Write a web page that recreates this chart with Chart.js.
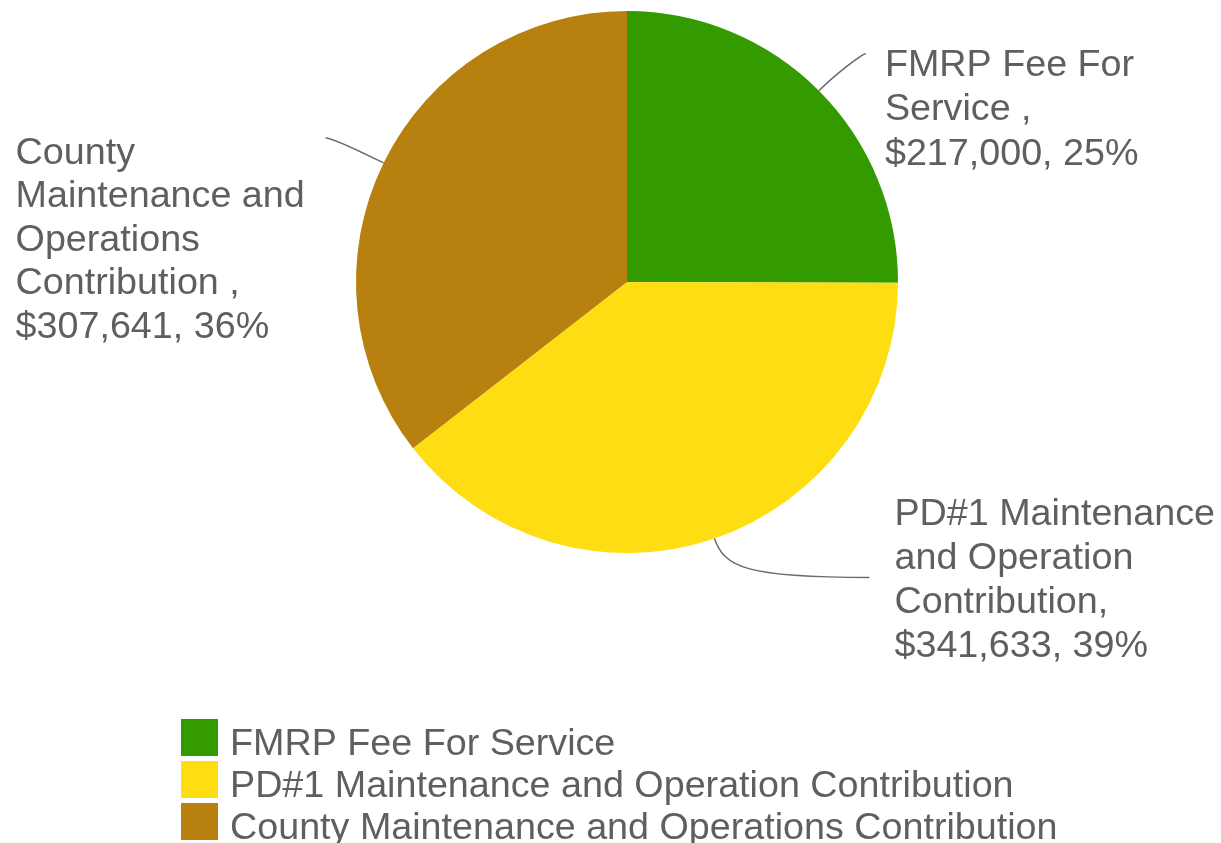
<!DOCTYPE html>
<html>
<head>
<meta charset="utf-8">
<script src="https://cdn.jsdelivr.net/npm/chart.js@4.4.0/dist/chart.umd.min.js"></script>
<style>
  html, body { margin: 0; padding: 0; background: #fff; }
  #wrap { position: relative; width: 1221px; height: 843px; }
</style>
</head>
<body>
<div id="wrap"><canvas id="c" width="1221" height="843"></canvas></div>
<script>
// ---- data ----
const categories = [
  "FMRP Fee For Service",
  "PD#1 Maintenance and Operation Contribution",
  "County Maintenance and Operations Contribution"
];
const values = [217000, 341633, 307641];
const sliceColors = ["#339A00", "#FEDD12", "#B8810F"];
// data label text, already wrapped as in the reference
const labelLines = [
  ["FMRP Fee For", "Service ,", "$217,000, 25%"],
  ["PD#1 Maintenance", "and Operation", "Contribution,", "$341,633, 39%"],
  ["County", "Maintenance and", "Operations", "Contribution ,", "$307,641, 36%"]
];

const FONT = '37.7px "Liberation Sans", Arial, sans-serif';
const TEXT_COLOR = '#5f5f5f';

const calloutPlugin = {
  id: 'callouts',
  afterDatasetsDraw(chart, args, opts) {
    const ctx = chart.ctx;
    const meta = chart.getDatasetMeta(0);
    ctx.save();
    meta.data.forEach((arc, i) => {
      const p = arc.getProps(['x', 'y', 'startAngle', 'endAngle', 'outerRadius'], true);
      const mid = (p.startAngle + p.endAngle) / 2;
      const ux = Math.cos(mid), uy = Math.sin(mid);
      const ax = p.x + ux * p.outerRadius, ay = p.y + uy * p.outerRadius;
      const lay = opts.layout[i];
      const ex = ax + lay.dx, ey = ay + lay.dy;
      ctx.strokeStyle = '#6a6a6a';
      ctx.lineWidth = 1.5;
      ctx.beginPath();
      ctx.moveTo(ax, ay);
      ctx.bezierCurveTo(ax + ux * lay.c1, ay + uy * lay.c1, ex - lay.c2, ey, ex, ey);
      ctx.stroke();
      ctx.fillStyle = TEXT_COLOR;
      ctx.font = FONT;
      ctx.textAlign = 'left';
      ctx.textBaseline = 'alphabetic';
      labelLines[i].forEach((line, k) => {
        ctx.fillText(line, ex + lay.tx, ey + lay.ty + k * lay.pitch);
      });
    });
    ctx.restore();
  }
};

const legendPlugin = {
  id: 'sideLegend',
  afterDraw(chart, args, opts) {
    const ctx = chart.ctx;
    const ds = chart.data.datasets[0];
    ctx.save();
    chart.data.labels.forEach((lab, i) => {
      const top = opts.top + i * opts.pitch;
      ctx.fillStyle = ds.backgroundColor[i];
      ctx.fillRect(opts.left, top, opts.box, opts.box);
      ctx.fillStyle = TEXT_COLOR;
      ctx.font = FONT;
      ctx.textAlign = 'left';
      ctx.textBaseline = 'alphabetic';
      ctx.fillText(lab, opts.left + opts.box + 12, top + 36);
    });
    ctx.restore();
  }
};

new Chart(document.getElementById('c'), {
  type: 'pie',
  data: {
    labels: categories,
    datasets: [{
      data: values,
      backgroundColor: sliceColors,
      borderWidth: 0
    }]
  },
  options: {
    responsive: false,
    animation: false,
    radius: 271,
    layout: { padding: { top: 0, bottom: 279, left: 33, right: 0 } },
    plugins: {
      legend: { display: false },
      tooltip: { enabled: false },
      callouts: {
        layout: [
          { dx: 47, dy: -37, c1: 22, c2: 4, tx: 19, ty: 22, pitch: 44.5 },
          { dx: 155, dy: 39, c1: 30, c2: 125, tx: 25, ty: -52, pitch: 44 },
          { dx: -58, dy: -25, c1: 12, c2: -8, tx: -310, ty: 26, pitch: 43.5 }
        ]
      },
      sideLegend: { left: 181, top: 719, pitch: 42, box: 37 }
    }
  },
  plugins: [calloutPlugin, legendPlugin]
});
</script>
</body>
</html>
